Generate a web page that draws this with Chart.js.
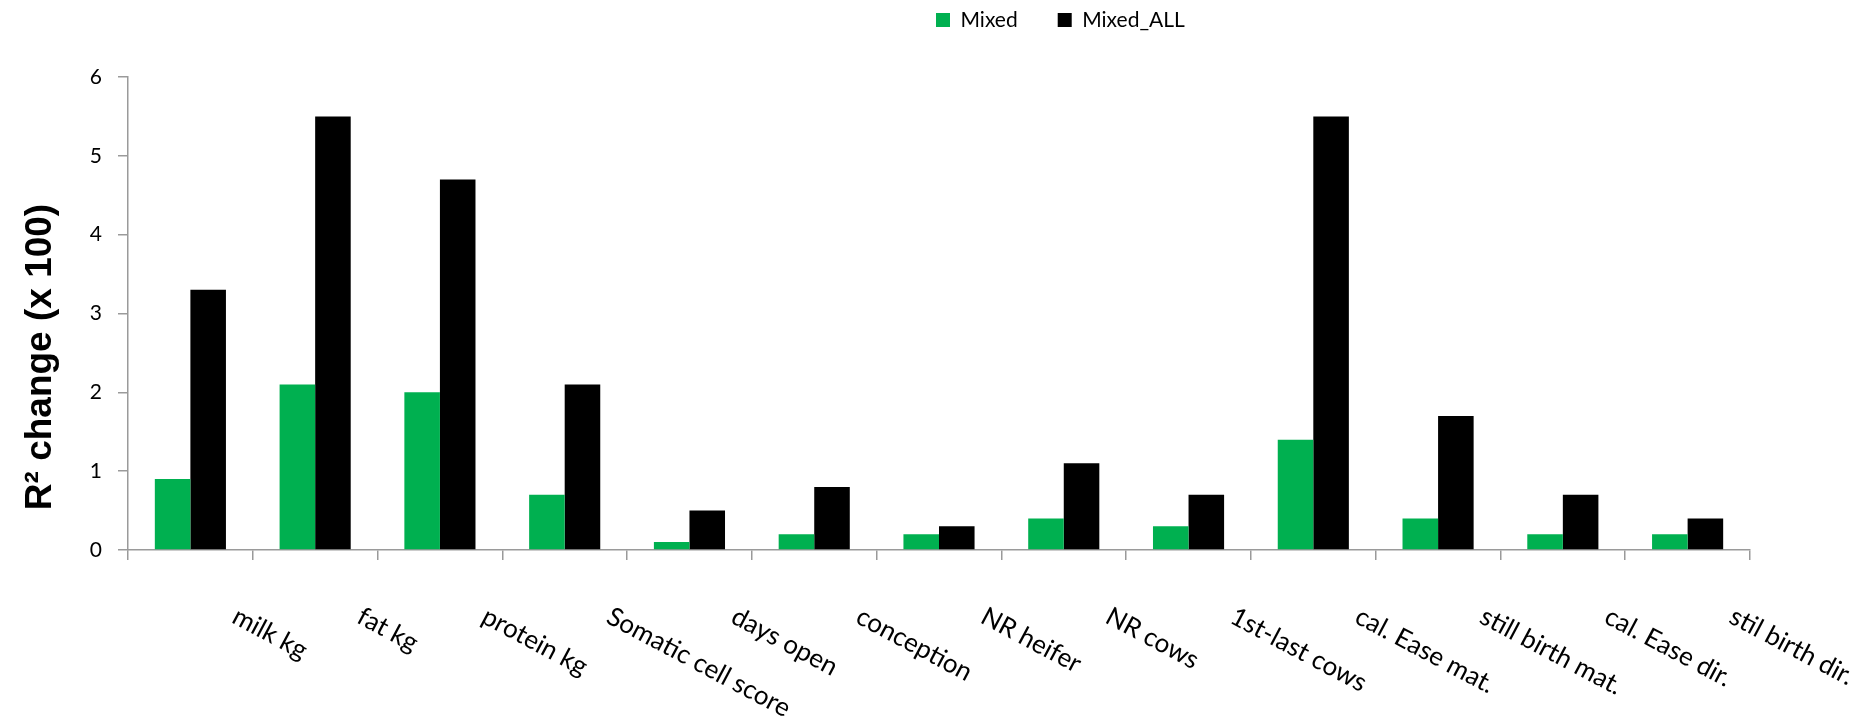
<!DOCTYPE html>
<html>
<head>
<meta charset="utf-8">
<script src="https://cdn.jsdelivr.net/npm/chart.js@4/dist/chart.umd.min.js"></script>
<style>
  html, body { margin: 0; padding: 0; background: #fff; }
  #wrap { width: 1872px; height: 723px; position: relative; }
</style>
</head>
<body>
<div id="wrap"><canvas id="c"></canvas></div>
<script>
// Traits and the R² change (x 100) of each model
const categories = ['milk kg', 'fat kg', 'protein kg', 'Somatic cell score', 'days open', 'conception',
  'NR heifer', 'NR cows', '1st-last cows', 'cal. Ease mat.', 'still birth mat.', 'cal. Ease dir.', 'stil birth dir.'];
const mixed    = [0.9, 2.1, 2.0, 0.7, 0.1, 0.2, 0.2, 0.4, 0.3, 1.4, 0.4, 0.2, 0.2];
const mixedAll = [3.3, 5.5, 4.7, 2.1, 0.5, 0.8, 0.3, 1.1, 0.7, 5.5, 1.7, 0.7, 0.4];
const seriesNames = ['Mixed', 'Mixed_ALL'];
const yTicks = [0, 1, 2, 3, 4, 5, 6];
const yTitle = 'R² change (x 100)';

const AXIS = '#9a9a9a';
const LEGEND_PAD = 40;
const LEGEND_FONT = 21;

// Category labels slanted downward to the right, starting just past each group
const slantedLabels = {
  id: 'slantedLabels',
  afterDraw(chart) {
    const xs = chart.scales.x;
    const ctx = chart.ctx;
    ctx.save();
    ctx.font = '26px Lato, "Noto Sans", sans-serif';
    ctx.fillStyle = '#000';
    ctx.textAlign = 'left';
    ctx.textBaseline = 'alphabetic';
    categories.forEach((label, i) => {
      const px = xs.getPixelForValue(i) + 40;
      const py = xs.top + 72;
      ctx.save();
      ctx.translate(px, py);
      ctx.rotate(28 * Math.PI / 180);
      ctx.fillText(label, 0, 0);
      ctx.restore();
    });
    ctx.restore();
  }
};

// Vertical axis title, set a little below the middle of the plot
const axisTitle = {
  id: 'axisTitle',
  afterDraw(chart) {
    const ctx = chart.ctx;
    ctx.save();
    ctx.font = 'bold 37px "Liberation Sans", Arial, sans-serif';
    ctx.fillStyle = '#000';
    ctx.textAlign = 'center';
    ctx.textBaseline = 'middle';
    ctx.translate(41, 357);
    ctx.rotate(-Math.PI / 2);
    ctx.fillText(yTitle, 0, 0);
    ctx.restore();
  }
};

// Reserve the band above the plot for the legend and place it there
const legendBand = {
  id: 'legendBand',
  beforeLayout(chart) {
    const lg = chart.legend;
    if (lg && !lg._bandPatched) {
      const fit = lg.fit;
      lg.fit = function () { fit.call(this); this.height = 77; };
      lg._bandPatched = true;
    }
  },
  afterLayout(chart) {
    const lg = chart.legend;
    if (!lg) return;
    const dy = 20 - (lg.top + LEGEND_PAD + LEGEND_FONT / 2);
    lg.top += dy; lg.bottom += dy;
    const w = lg.right - lg.left;
    lg.left = 936 - LEGEND_PAD;
    lg.right = lg.left + w;
  }
};

new Chart(document.getElementById('c'), {
  type: 'bar',
  data: {
    labels: categories,
    datasets: [
      { label: seriesNames[0], data: mixed, backgroundColor: '#00B050', borderWidth: 0 },
      { label: seriesNames[1], data: mixedAll, backgroundColor: '#000000', borderWidth: 0 }
    ]
  },
  options: {
    responsive: true,
    maintainAspectRatio: false,
    animation: false,
    layout: { padding: { top: 0, left: 0, right: 122, bottom: 0 } },
    datasets: { bar: { categoryPercentage: 0.57, barPercentage: 1.0 } },
    plugins: {
      legend: {
        position: 'top',
        align: 'start',
        labels: {
          boxWidth: 14, boxHeight: 14, padding: LEGEND_PAD, color: '#000',
          font: { family: 'Lato, "Noto Sans", sans-serif', size: LEGEND_FONT }
        }
      },
      tooltip: { enabled: false }
    },
    scales: {
      x: {
        ticks: { display: false },
        grid: { offset: true, drawOnChartArea: false, drawTicks: true, tickLength: 10, color: AXIS, lineWidth: 1.5 },
        border: { color: AXIS, width: 1.5 },
        afterFit(s) { s.height = 173; }
      },
      y: {
        min: 0, max: 6,
        afterBuildTicks(s) { s.ticks = yTicks.map(v => ({ value: v })); },
        ticks: { color: '#000', padding: 16, font: { family: 'Lato, "Noto Sans", sans-serif', size: 21 } },
        grid: { drawOnChartArea: false, drawTicks: true, tickLength: 10, color: AXIS, lineWidth: 1.5 },
        border: { color: AXIS, width: 1.5 },
        afterFit(s) { s.width = 128; }
      }
    }
  },
  plugins: [slantedLabels, axisTitle, legendBand]
});
</script>
</body>
</html>
